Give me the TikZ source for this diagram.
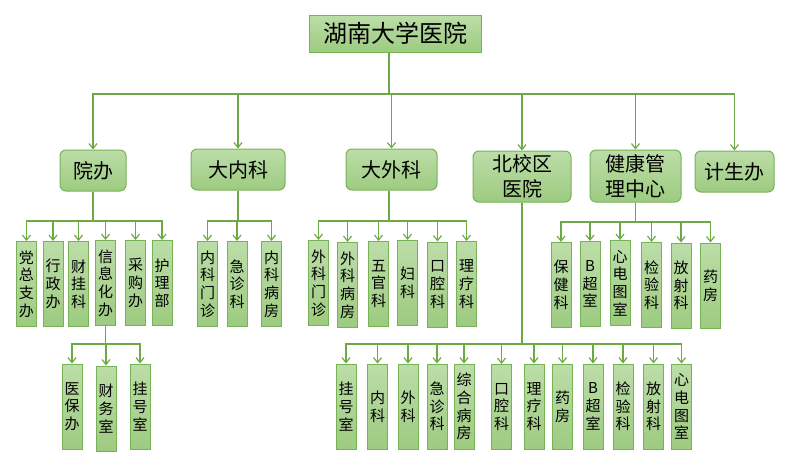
\documentclass[tikz,border=0pt]{standalone}
\usepackage{fontspec}
\setmainfont{Noto Sans CJK SC}
\usetikzlibrary{arrows.meta}
\definecolor{lc}{HTML}{6DAA45}
\definecolor{bd}{HTML}{78B257}
\definecolor{gt}{HTML}{BCDDA8}
\definecolor{gb}{HTML}{9DCB80}
\tikzset{
  ln/.style={draw=lc, line width=1.2pt},
  arr/.style={ln, -{Straight Barb[length=5pt,width=8pt]}},
  boxbase/.style={draw=bd, line width=1pt, top color=gt, bottom color=gb, inner sep=0pt, align=center, text=black},
  sb/.style={boxbase, minimum width=20pt, minimum height=85pt, font=\fontsize{15pt}{17.7pt}\selectfont},
  mb/.style={boxbase, rounded corners=6pt, font=\fontsize{20pt}{25pt}\selectfont},
  rb/.style={boxbase, font=\fontsize{24pt}{28pt}\selectfont}
}
\begin{document}
\begin{tikzpicture}[x=1pt,y=-1pt]
\useasboundingbox (0,0) rectangle (798,458);
% root
\node[rb, minimum width=172pt, minimum height=37pt] (root) at (395,33.5) {湖南大学医院};
% level 1
\node[mb, minimum width=66pt, minimum height=41pt] (yb) at (93,170.5) {院办};
\node[mb, minimum width=94pt, minimum height=41pt] (dnk) at (238,169.5) {大内科};
\node[mb, minimum width=91pt, minimum height=41pt] (dwk) at (391.5,169.5) {大外科};
\node[mb, minimum width=98pt, minimum height=51pt] (bx) at (522,176.5) {北校区\\医院};
\node[mb, minimum width=91pt, minimum height=52pt] (jk) at (635.5,176) {健康管\\理中心};
\node[mb, minimum width=79pt, minimum height=41pt] (js) at (734.5,171.5) {计生办};
% bus levels
\coordinate (bus0) at (0,94);
\coordinate (busA) at (0,221);
\coordinate (busB) at (0,344);
\coordinate (busC) at (0,222);
\foreach \c in {yb,dnk,dwk,bx,jk,js}
  \draw[arr] ([xshift=-6pt]root.south) |- (\c.north |- bus0) -- (\c.north);
% 院办 children
\node[sb] (a1) at (26.5,284) {党\\总\\支\\办};
\node[sb] (a2) at (53,284) {行\\政\\办};
\node[sb] (a3) at (78.5,284) {财\\挂\\科};
\node[sb] (a4) at (105.5,283) {信\\息\\化\\办};
\node[sb] (a5) at (135.5,283) {采\\购\\办};
\node[sb] (a6) at (162,283) {护\\理\\部};
\foreach \c in {a1,a2,a3,a4,a5,a6}
  \draw[arr] (yb.south) |- (\c.north |- busA) -- (\c.north);
% 信息化办 children
\node[sb] (x1) at (72,406.5) {医\\保\\办};
\node[sb] (x2) at (106,408.5) {财\\务\\室};
\node[sb] (x3) at (140,406.5) {挂\\号\\室};
\foreach \c in {x1,x2,x3}
  \draw[arr] (a4.south) |- (\c.north |- busB) -- (\c.north);
% 大内科 children
\node[sb] (n1) at (207.5,284) {内\\科\\门\\诊};
\node[sb] (n2) at (237,284) {急\\诊\\科};
\node[sb] (n3) at (271.5,284) {内\\科\\病\\房};
\foreach \c in {n1,n2,n3}
  \draw[arr] (dnk.south) |- (\c.north |- busA) -- (\c.north);
% 大外科 children
\node[sb] (w1) at (318.5,283) {外\\科\\门\\诊};
\node[sb] (w2) at (347.5,285) {外\\科\\病\\房};
\node[sb] (w3) at (378.5,284) {五\\官\\科};
\node[sb] (w4) at (407.5,283) {妇\\科};
\node[sb] (w5) at (437.5,284.5) {口\\腔\\科};
\node[sb] (w6) at (466.5,284) {理\\疗\\科};
\foreach \c in {w1,w2,w3,w4,w5,w6}
  \draw[arr] ([xshift=-2.5pt]dwk.south) |- (\c.north |- busA) -- (\c.north);
% 北校区医院 children
\node[sb] (b1) at (346,406.5) {挂\\号\\室};
\node[sb] (b2) at (377.5,406.5) {内\\科};
\node[sb] (b3) at (408,406.5) {外\\科};
\node[sb] (b4) at (437,406.5) {急\\诊\\科};
\node[sb] (b5) at (464,406.5) {综\\合\\病\\房};
\node[sb] (b6) at (501.5,407) {口\\腔\\科};
\node[sb] (b7) at (534,406.5) {理\\疗\\科};
\node[sb] (b8) at (562.5,406.5) {药\\房};
\node[sb] (b9) at (593,406.5) {B\\超\\室};
\node[sb] (b10) at (623,406.5) {检\\验\\科};
\node[sb] (b11) at (653.5,406.5) {放\\射\\科};
\node[sb] (b12) at (681.5,406.5) {心\\电\\图\\室};
\foreach \c in {b1,b2,b3,b4,b5,b6,b7,b8,b9,b10,b11,b12}
  \draw[arr] (bx.south) |- (\c.north |- busB) -- (\c.north);
% 健康管理中心 children
\node[sb] (h1) at (561,285) {保\\健\\科};
\node[sb] (h2) at (590,284) {B\\超\\室};
\node[sb] (h3) at (620,283) {心\\电\\图\\室};
\node[sb] (h4) at (651.5,285) {检\\验\\科};
\node[sb] (h5) at (681,285.5) {放\\射\\科};
\node[sb] (h6) at (710.5,285.5) {药\\房};
\foreach \c in {h1,h2,h3,h4,h5,h6}
  \draw[arr] (jk.south) |- (\c.north |- busC) -- (\c.north);
\end{tikzpicture}
\end{document}
